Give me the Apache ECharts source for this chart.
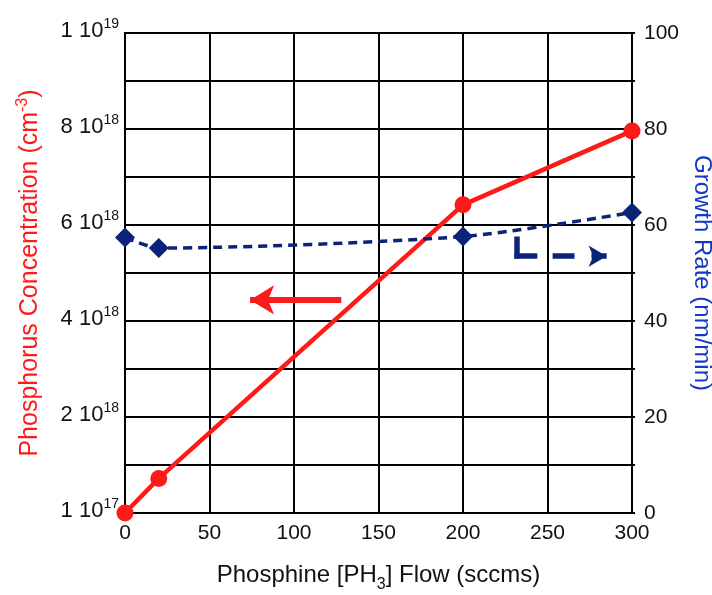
<!DOCTYPE html>
<html><head><meta charset="utf-8">
<script src="https://cdn.jsdelivr.net/npm/echarts@6/dist/echarts.min.js"></script>
<style>html,body{margin:0;padding:0;background:#fff}#c{width:712px;height:595px}</style>
</head><body><div id="c"></div>
<script>
// Data
const flowX = [0, 20, 200, 300];                 // sccm
const phosConc = [0, 0.72, 6.42, 7.96];          // x 1e18 cm^-3 (axis bottom labelled 1e17)
const growthX = [0, 20, 200, 300];
const growthRate = [57.4, 55.2, 57.6, 62.6];     // nm/min
const leftTickMantissa = ['1', '2', '4', '6', '8', '1'];
const leftTickExp = ['17', '18', '18', '18', '18', '19'];
const xTicks = [0, 50, 100, 150, 200, 250, 300];
const rightTicks = [0, 20, 40, 60, 80, 100];

const FONT = 'Liberation Sans, Arial, sans-serif';
const RED = '#ff1a1a';
const NAVY = '#0c237a';
const BLUE_TXT = '#1438c8';

const chart = echarts.init(document.getElementById('c'));
chart.setOption({
  animation: false,
  backgroundColor: '#fff',
  grid: { left: 125, right: 80, top: 33, bottom: 82, show: true, borderColor: '#000', borderWidth: 2,
          containLabel: false, outerBoundsMode: 'none' },
  xAxis: {
    type: 'value', min: 0, max: 300, interval: 50,
    axisLine: { show: true, lineStyle: { color: '#000', width: 2 } },
    axisTick: { show: false },
    splitLine: { show: true, lineStyle: { color: '#000', width: 2 } },
    axisLabel: { color: '#111', fontSize: 21, fontFamily: FONT, margin: 10 },
    name: '{t|Phosphine [PH}{s|3}{t|] Flow (sccms)}',
    nameLocation: 'middle', nameGap: 44,
    nameTextStyle: { rich: {
      t: { fontSize: 24, fontFamily: FONT, color: '#111' },
      s: { fontSize: 16, fontFamily: FONT, color: '#111', padding: [20, 0, 0, 0] }
    } }
  },
  yAxis: [{
    type: 'value', min: 0, max: 10, interval: 2, position: 'left',
    axisLine: { show: true, lineStyle: { color: '#000', width: 2 } },
    axisTick: { show: false },
    splitLine: { show: false },
    axisLabel: {
      margin: 6, fontFamily: FONT,
      formatter: function (v) { const i = Math.round(v / 2); return '{m|' + leftTickMantissa[i] + ' 10}{e|' + leftTickExp[i] + '}'; },
      rich: {
        m: { fontSize: 22, fontFamily: FONT, color: '#111', padding: [0, 0, 4, 0] },
        e: { fontSize: 14, fontFamily: FONT, color: '#111', padding: [0, 0, 18, 0] }
      }
    },
    name: '{t|Phosphorus Concentration (cm}{e|-3}{t|)}',
    nameLocation: 'middle', nameGap: 80,
    nameTextStyle: { rich: {
      t: { fontSize: 25, fontFamily: FONT, color: RED },
      e: { fontSize: 16, fontFamily: FONT, color: RED, padding: [0, 0, 14, 0] }
    } }
  }, {
    type: 'value', min: 0, max: 100, interval: 10, position: 'right',
    axisLine: { show: true, lineStyle: { color: '#000', width: 2 } },
    axisTick: { show: true, inside: false, length: 3, lineStyle: { color: '#000', width: 2 } },
    splitLine: { show: true, lineStyle: { color: '#000', width: 2 } },
    axisLabel: {
      color: '#111', fontSize: 21, fontFamily: FONT, margin: 12,
      formatter: function (v) { return rightTicks.indexOf(v) >= 0 ? String(v) : ''; }
    },
    name: 'Growth Rate (nm/min)', nameLocation: 'middle', nameGap: 50, nameRotate: -90,
    nameTextStyle: { fontSize: 24, fontFamily: FONT, color: BLUE_TXT }
  }],
  series: [{
    type: 'line', yAxisIndex: 0,
    data: flowX.map((x, i) => [x, phosConc[i]]),
    lineStyle: { color: RED, width: 4.5 },
    itemStyle: { color: RED },
    symbol: 'circle', symbolSize: 17,
    z: 3,
    markLine: {
      silent: true, symbol: ['none', 'arrow'], symbolSize: [22, 24], label: { show: false },
      lineStyle: { color: RED, width: 6, type: 'solid' },
      data: [[{ coord: [128, 4.44] }, { coord: [74, 4.44] }]]
    }
  }, {
    type: 'line', yAxisIndex: 1,
    data: growthX.map((x, i) => [x, growthRate[i]]),
    smooth: 0.25,
    lineStyle: { color: NAVY, width: 3.5, type: [9, 6] },
    itemStyle: { color: NAVY },
    symbol: 'diamond', symbolSize: [20, 20],
    z: 4,
    markLine: {
      silent: true, label: { show: false },
      lineStyle: { color: NAVY, width: 5.5, type: 'solid' },
      data: [
        [{ coord: [232, 57.6], symbol: 'none' }, { coord: [232, 53.0], symbol: 'none' }],
        [{ coord: [230.5, 53.5], symbol: 'none' }, { coord: [244, 53.5], symbol: 'none' }],
        [{ coord: [253, 53.5], symbol: 'none' }, { coord: [266, 53.5], symbol: 'none' }],
        [{ coord: [276, 53.5], symbol: 'none' }, { coord: [285, 53.5], symbol: 'arrow', symbolSize: [16, 18] }]
      ]
    }
  }]
});
</script></body></html>
